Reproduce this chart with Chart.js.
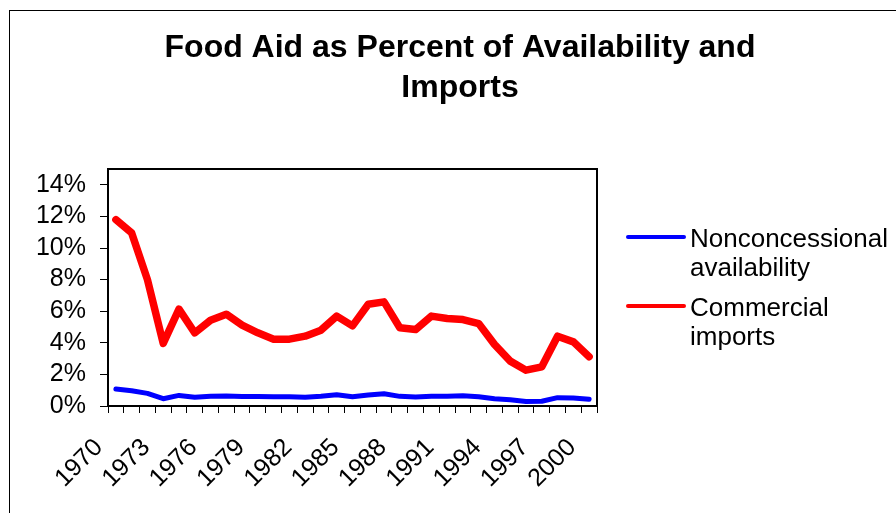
<!DOCTYPE html>
<html>
<head>
<meta charset="utf-8">
<script src="https://cdn.jsdelivr.net/npm/chart.js@4/dist/chart.umd.min.js"></script>
<style>
  html, body { margin: 0; padding: 0; background: #fff; overflow: hidden; }
  body { width: 896px; height: 513px; position: relative; }
  #frame { position: absolute; left: 9px; top: 10px; width: 940px; height: 600px;
           border-left: 1px solid #000; border-top: 1px solid #000; }
  #wrap { position: absolute; left: 10px; top: 11px; width: 900px; height: 502px; }
  #legend { position: absolute; left: 626px; top: 224px; font-family: "Liberation Sans", Arial, sans-serif;
            font-size: 26px; line-height: 29px; color: #000; }
  .item { display: flex; align-items: flex-start; margin-bottom: 11px; }
  .swatch { width: 60px; height: 4px; border-radius: 2px; margin-top: 11px; margin-right: 4px; flex: none; }
</style>
</head>
<body>
<div id="frame"></div>
<div id="wrap"><canvas id="myChart" width="900" height="502"></canvas></div>
<div id="legend"></div>
<script>
var years = [];
for (var y = 1970; y <= 2000; y++) years.push(String(y));

var nonconcessional = [1.07, 0.97, 0.80, 0.46, 0.67, 0.55, 0.61, 0.63, 0.60, 0.60,
                       0.58, 0.58, 0.55, 0.61, 0.71, 0.59, 0.69, 0.78, 0.61, 0.57,
                       0.61, 0.62, 0.65, 0.59, 0.46, 0.40, 0.29, 0.30, 0.53, 0.51, 0.42];
var commercial = [11.79, 10.95, 8.00, 3.96, 6.13, 4.63, 5.43, 5.81, 5.12, 4.63,
                  4.23, 4.23, 4.42, 4.80, 5.69, 5.07, 6.44, 6.59, 4.95, 4.84,
                  5.69, 5.54, 5.47, 5.22, 3.90, 2.84, 2.27, 2.48, 4.42, 4.06, 3.12];
var seriesNames = [['Nonconcessional', 'availability'], ['Commercial', 'imports']];
var yTicks = [0, 2, 4, 6, 8, 10, 12, 14];

var font = '"Liberation Sans", Arial, sans-serif';

var plotBorder = {
    id: 'plotBorder',
    afterDraw: function (chart) {
        var a = chart.chartArea, ctx = chart.ctx;
        ctx.save();
        ctx.strokeStyle = '#000';
        ctx.lineWidth = 2;
        ctx.strokeRect(a.left, a.top, a.right - a.left, a.bottom - a.top);
        ctx.restore();
    }
};

function renderChart() {
    var ctx = document.getElementById('myChart').getContext('2d');
    var myChart = new Chart(ctx, {
        type: 'line',
        data: {
            labels: years,
            datasets: [{
                label: seriesNames[0].join(' '),
                data: nonconcessional,
                borderColor: '#0000ff',
                borderWidth: 5
            }, {
                label: seriesNames[1].join(' '),
                data: commercial,
                borderColor: '#ff0000',
                borderWidth: 7.5
            }]
        },
        options: {
            responsive: false,
            animation: false,
            elements: {
                point: { radius: 0 },
                line: { tension: 0, borderJoinStyle: 'round', borderCapStyle: 'round' }
            },
            layout: { padding: 0 },
            plugins: {
                legend: { display: false },
                tooltip: { enabled: false },
                title: {
                    display: true,
                    text: ['Food Aid as Percent of Availability and', 'Imports'],
                    color: '#000',
                    font: { family: font, size: 32, weight: 'bold', lineHeight: 1.25 },
                    padding: { top: 17, bottom: 61 }
                }
            },
            scales: {
                x: {
                    offset: true,
                    grid: { offset: true, drawOnChartArea: false, tickLength: 7, color: '#000', tickWidth: 1 },
                    border: { display: false },
                    ticks: {
                        autoSkip: false,
                        maxRotation: 45,
                        minRotation: 45,
                        labelOffset: -17,
                        padding: 20,
                        color: '#000',
                        font: { family: font, size: 25 },
                        callback: function (v, i) { return i % 3 === 0 ? years[i] : ''; }
                    },
                    afterFit: function (s) { s.height = 107; }
                },
                y: {
                    min: 0,
                    max: 15,
                    grid: { drawOnChartArea: false, tickLength: 8, color: '#000' },
                    border: { display: false },
                    ticks: {
                        stepSize: 2,
                        includeBounds: false,
                        padding: 14,
                        color: '#000',
                        font: { family: font, size: 25 },
                        callback: function (v) { return v + '%'; }
                    },
                    afterBuildTicks: function (s) {
                        s.ticks = yTicks.map(function (v) { return { value: v }; });
                    },
                    afterFit: function (s) { s.width = 98; }
                },
                y2: {
                    position: 'right',
                    grid: { display: false },
                    border: { display: false },
                    ticks: { display: false },
                    afterFit: function (s) { s.width = 313; }
                }
            }
        },
        plugins: [plotBorder]
    });
    return myChart;
}

var chart = renderChart();

var legend = document.getElementById('legend');
chart.data.datasets.forEach(function (ds, i) {
    var item = document.createElement('div');
    item.className = 'item';
    var sw = document.createElement('div');
    sw.className = 'swatch';
    sw.style.background = ds.borderColor;
    var txt = document.createElement('div');
    txt.innerHTML = seriesNames[i].join('<br>');
    item.appendChild(sw);
    item.appendChild(txt);
    legend.appendChild(item);
});
</script>
</body>
</html>
